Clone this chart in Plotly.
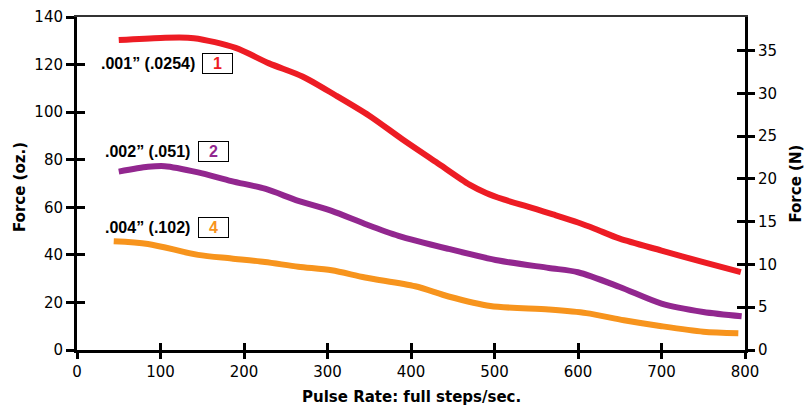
import plotly.graph_objects as go

# ---- data ----
red_x = [50, 100, 140, 190, 230, 270, 310, 350, 390, 430, 470, 490, 510, 550, 570, 600, 620, 650, 700, 750, 795]
red_y = [130.3, 131.2, 131.1, 127, 120.5, 115, 107, 98.5, 88.5, 79, 69.5, 66, 63.4, 59.2, 57, 53.6, 51, 46.8, 41.8, 36.9, 32.7]

purple_x = [50, 85, 105, 145, 185, 225, 265, 305, 345, 385, 445, 505, 565, 600, 650, 700, 750, 796]
purple_y = [75, 77, 77.3, 74.7, 71, 67.8, 62.7, 58.5, 53, 48, 42.5, 37.6, 34.5, 32.7, 26.5, 19.5, 16, 14.2]

orange_x = [44, 85, 145, 185, 225, 265, 305, 345, 405, 445, 495, 565, 610, 655, 700, 750, 792]
orange_y = [45.7, 44.6, 40, 38.5, 37, 35, 33.5, 30.5, 26.8, 22.5, 18.5, 17, 15.5, 12.5, 10, 7.7, 7]

labels = ['.001” (.0254)', '.002” (.051)', '.004” (.102)']
box_texts = ['1', '2', '4']
label_x = [144, 138, 138]
label_y = [120.5, 83.5, 51.5]
box_x = [168, 163, 164]

x_title = 'Pulse Rate: full steps/sec.'
y_title = 'Force (oz.)'
y2_title = 'Force (N)'

OZ_PER_N = 3.5969
X_RANGE = [0, 800]
Y_RANGE = [0, 140]

colors = ['#ED1C24', '#92278F', '#F7941D']
FONT = 'DejaVu Sans, Verdana, sans-serif'
LABEL_FONT = 'Liberation Sans, Arial, Helvetica, sans-serif'

fig = go.Figure()
for xs, ys, c in [(red_x, red_y, colors[0]), (purple_x, purple_y, colors[1]), (orange_x, orange_y, colors[2])]:
    fig.add_trace(go.Scatter(x=xs, y=ys, mode='lines',
                             line=dict(color=c, width=6, shape='spline', smoothing=0.8),
                             showlegend=False, hoverinfo='skip'))

# dummy traces so all axes are drawn
fig.add_trace(go.Scatter(x=[None], y=[None], yaxis='y2', showlegend=False))
fig.add_trace(go.Scatter(x=[None], y=[None], xaxis='x2', showlegend=False))
fig.add_trace(go.Scatter(x=[None], y=[None], xaxis='x3', showlegend=False))
fig.add_trace(go.Scatter(x=[None], y=[None], yaxis='y3', showlegend=False))
fig.add_trace(go.Scatter(x=[None], y=[None], yaxis='y4', showlegend=False))

for i in range(3):
    fig.add_annotation(x=label_x[i], y=label_y[i], xref='x', yref='y', text=f'<b>{labels[i]}</b>',
                       showarrow=False, xanchor='right', yanchor='middle',
                       font=dict(family=LABEL_FONT, size=16, color='black'))
    fig.add_annotation(x=box_x[i], y=label_y[i], xref='x', yref='y', text=f'<b>{box_texts[i]}</b>',
                       showarrow=False, xanchor='center', yanchor='middle',
                       font=dict(family=LABEL_FONT, size=16, color=colors[i]),
                       bordercolor='black', borderwidth=1, borderpad=1, width=27, height=17,
                       bgcolor='white')

tickfont = dict(family=FONT, size=15, color='black')
titlefont = dict(family=FONT, size=15, color='black')

# axis titles as paper annotations
fig.add_annotation(xref='paper', yref='paper', x=0.5, y=-0.14, text=f'<b>{x_title}</b>',
                   showarrow=False, xanchor='center', yanchor='middle', font=titlefont)
fig.add_annotation(xref='paper', yref='paper', x=-0.085, y=0.49, text=f'<b>{y_title}</b>',
                   showarrow=False, xanchor='center', yanchor='middle', textangle=-90, font=titlefont)
fig.add_annotation(xref='paper', yref='paper', x=1.075, y=0.5, text=f'<b>{y2_title}</b>',
                   showarrow=False, xanchor='center', yanchor='middle', textangle=-90, font=titlefont)

fig.update_layout(
    width=812, height=411,
    margin=dict(l=69, r=75, t=9, b=69),
    paper_bgcolor='white', plot_bgcolor='white',
    xaxis=dict(range=X_RANGE, dtick=100, tick0=0, ticks='outside', ticklen=6, tickwidth=2.5,
               tickcolor='black', showline=True, linewidth=3, linecolor='black',
               showgrid=False, zeroline=False, tickfont=tickfont, automargin=False,
               ticklabeloverflow='allow'),
    xaxis2=dict(range=X_RANGE, dtick=100, tick0=0, ticks='inside', ticklen=7, tickwidth=2.5,
                tickcolor='black', overlaying='x', anchor='y', side='bottom', automargin=False,
                showticklabels=False, showgrid=False, zeroline=False, showline=False),
    xaxis3=dict(range=X_RANGE, overlaying='x', anchor='y', side='top', showline=True,
                linewidth=2, linecolor='#333', ticks='', showticklabels=False, automargin=False,
                showgrid=False, zeroline=False),
    yaxis=dict(range=Y_RANGE, dtick=20, tick0=0, ticks='outside', ticklen=8, tickwidth=2.5,
               tickcolor='black', showline=True, linewidth=3, linecolor='black',
               showgrid=False, zeroline=False, tickfont=tickfont, automargin=False,
               ticklabeloverflow='allow'),
    yaxis3=dict(range=Y_RANGE, dtick=20, tick0=0, ticks='inside', ticklen=8, tickwidth=2.5,
                tickcolor='black', overlaying='y', anchor='x', side='left', automargin=False,
                showticklabels=False, showgrid=False, zeroline=False, showline=False),
    yaxis2=dict(range=[0, Y_RANGE[1] / OZ_PER_N], dtick=5, tick0=0, ticks='outside', ticklen=7,
                tickwidth=2.5, tickcolor='black', overlaying='y', side='right', anchor='x',
                showline=True, linewidth=3, linecolor='black', showgrid=False, zeroline=False,
                tickfont=tickfont, automargin=False, ticklabeloverflow='allow'),
    yaxis4=dict(range=[0, Y_RANGE[1] / OZ_PER_N], dtick=5, tick0=0, ticks='inside', ticklen=8,
                tickwidth=2.5, tickcolor='black', overlaying='y', side='right', anchor='x',
                automargin=False,
                showticklabels=False, showgrid=False, zeroline=False, showline=False),
)

fig.write_html('out.html')
